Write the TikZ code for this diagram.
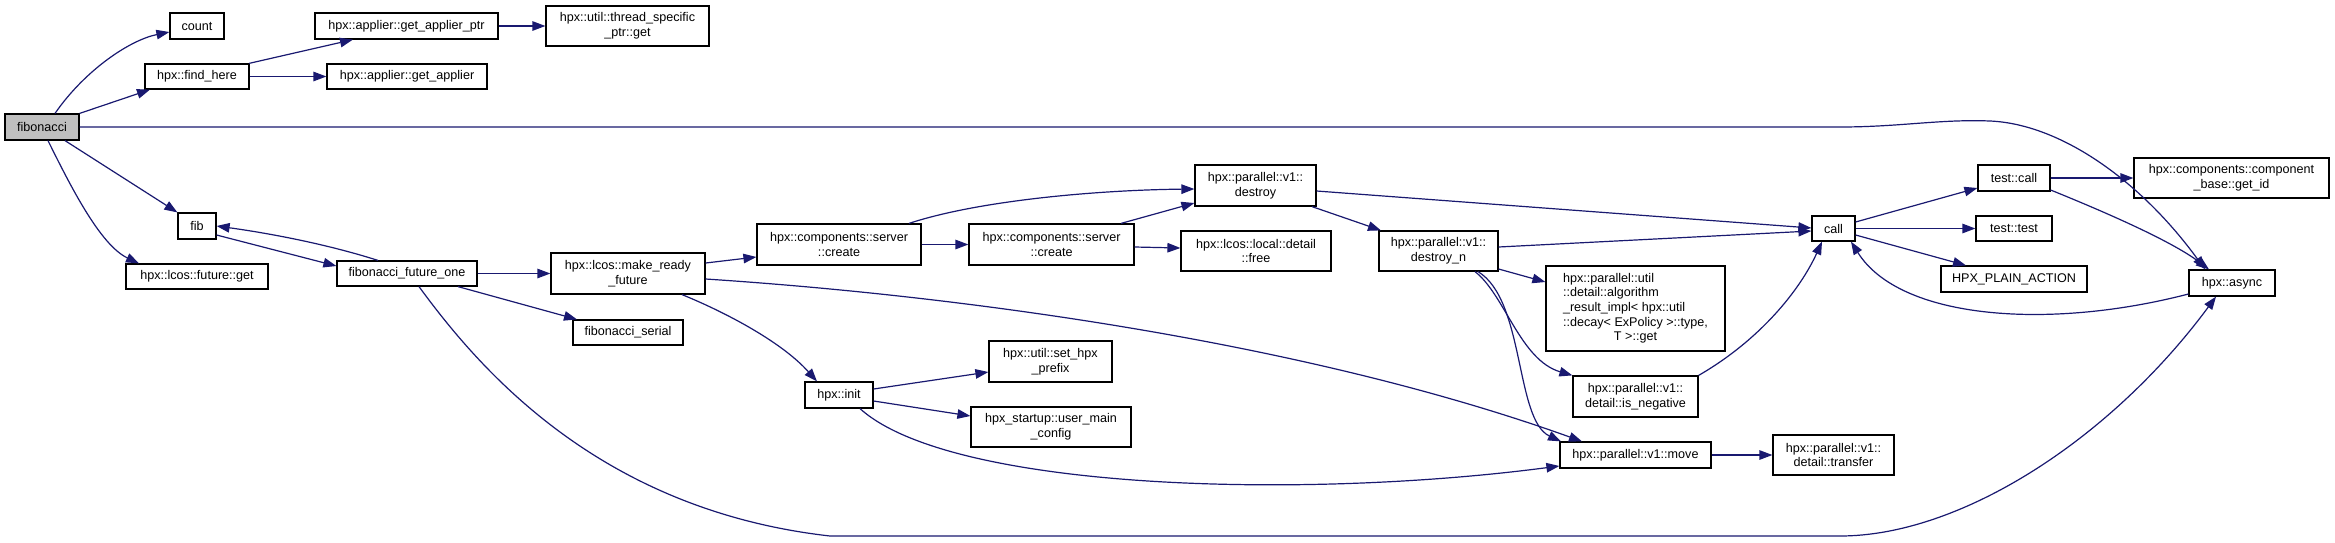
\documentclass[tikz,border=0pt]{standalone}
\usepackage{fontspec}
\setmainfont{Liberation Sans}
\usetikzlibrary{arrows.meta}
\definecolor{edgeblue}{HTML}{191970}
\definecolor{nodegray}{HTML}{BFBFBF}
\newcommand\dxfont{\fontsize{12.6}{14.6}\selectfont}
\tikzset{
  nd/.style={draw=black, line width=1.2pt, fill=white, inner sep=0pt, align=center, font=\dxfont},
  ed/.style={draw=edgeblue, line width=1.2pt, -{Triangle[length=13pt,width=9.5pt]}},
}
\begin{document}
\begin{tikzpicture}[x=1pt,y=-1pt]
\useasboundingbox[fill=white] (0,0) rectangle (2335,542);
% nodes
\node[nd, fill=nodegray, minimum width=74pt, minimum height=26pt] (fibo) at (42,127) {fibonacci};
\node[nd, minimum width=54pt, minimum height=26pt] (count) at (197,26) {count};
\node[nd, minimum width=104pt, minimum height=25pt] (findhere) at (197,76.5) {hpx::find\_here};
\node[nd, minimum width=183pt, minimum height=26pt] (gaptr) at (406.5,26) {hpx::applier::get\_applier\_ptr};
\node[nd, minimum width=163pt, minimum height=40pt] (tsget) at (627.5,26) {hpx::util::thread\_specific\\\_ptr::get};
\node[nd, minimum width=160pt, minimum height=25pt] (gapp) at (407,76.5) {hpx::applier::get\_applier};
\node[nd, minimum width=38pt, minimum height=26pt] (fib) at (197,226) {fib};
\node[nd, minimum width=142pt, minimum height=25pt] (futget) at (197,276.5) {hpx::lcos::future::get};
\node[nd, minimum width=140pt, minimum height=25pt] (ffo) at (407,273.5) {fibonacci\_future\_one};
\node[nd, minimum width=154pt, minimum height=41pt] (mrf) at (628,273.5) {hpx::lcos::make\_ready\\\_future};
\node[nd, minimum width=110pt, minimum height=25pt] (fser) at (628,332.5) {fibonacci\_serial};
\node[nd, minimum width=164pt, minimum height=41pt] (crea) at (839,244.5) {hpx::components::server\\::create};
\node[nd, minimum width=165pt, minimum height=41pt] (creb) at (1051.5,244.5) {hpx::components::server\\::create};
\node[nd, minimum width=68pt, minimum height=26pt] (init) at (839,395) {hpx::init};
\node[nd, minimum width=123pt, minimum height=41pt] (prefix) at (1050.5,361.5) {hpx::util::set\_hpx\\\_prefix};
\node[nd, minimum width=160pt, minimum height=40pt] (umc) at (1051,427) {hpx\_startup::user\_main\\\_config};
\node[nd, minimum width=121pt, minimum height=41pt] (destroy) at (1255.5,185.5) {hpx::parallel::v1::\\destroy};
\node[nd, minimum width=150pt, minimum height=40pt] (free) at (1256,251) {hpx::lcos::local::detail\\::free};
\node[nd, minimum width=119pt, minimum height=40pt] (destn) at (1438.5,251) {hpx::parallel::v1::\\destroy\_n};
\node[nd, minimum width=179pt, minimum height=85pt] (algo) at (1635.5,308.5) {\begin{tabular}{@{}l@{}}hpx::parallel::util\\::detail::algorithm\\\_result\_impl< hpx::util\\::decay< ExPolicy >::type,\\\multicolumn{1}{@{}c@{}}{T >::get}\end{tabular}};
\node[nd, minimum width=125pt, minimum height=41pt] (isneg) at (1635.5,396.5) {hpx::parallel::v1::\\detail::is\_negative};
\node[nd, minimum width=151pt, minimum height=26pt] (move) at (1635.5,455) {hpx::parallel::v1::move};
\node[nd, minimum width=121pt, minimum height=40pt] (transfer) at (1833.5,455) {hpx::parallel::v1::\\detail::transfer};
\node[nd, minimum width=43pt, minimum height=25pt] (call) at (1833.5,228.5) {call};
\node[nd, minimum width=72pt, minimum height=26pt] (tcall) at (2014,178) {test::call};
\node[nd, minimum width=195pt, minimum height=40pt] (getid) at (2231.5,178) {hpx::components::component\\\_base::get\_id};
\node[nd, minimum width=76pt, minimum height=25pt] (ttest) at (2014,228.5) {test::test};
\node[nd, minimum width=146pt, minimum height=26pt] (hpa) at (2014,279) {HPX\_PLAIN\_ACTION};
\node[nd, minimum width=86pt, minimum height=26pt] (async) at (2232,283) {hpx::async};
% edges
\draw[ed] (fibo.north -| 55,0) .. controls (85,70) and (130,40) .. (count.west |- 0,32);
\draw[ed] (fibo.north east) -- (findhere.south -| 150,0);
\draw[ed] (fibo.east) -- (1840,127) .. controls (1900,127) and (1940,119) .. (1990,121) .. controls (2060,124) and (2140,180) .. (async.north -| 2205,0);
\draw[ed] (fibo.south -| 65,0) -- (fib.north west);
\draw[ed] (fibo.south -| 48,0) .. controls (70,185) and (100,245) .. (futget.north -| 139,0);
\draw[ed] (findhere.north -| 249,0) -- (gaptr.south -| 353,0);
\draw[ed] (findhere) -- (gapp);
\draw[ed] (gaptr) -- (tsget);
\draw[ed] (fib.east |- 0,235) -- (ffo.west |- 0,266);
\draw[ed] (ffo.north -| 378,0) .. controls (320,242) and (260,232) .. (fib.east |- 0,226);
\draw[ed] (ffo) -- (mrf);
\draw[ed] (ffo.south -| 458,0) -- (fser.north -| 577,0);
\draw[ed] (ffo.south -| 419,0) .. controls (480,370) and (600,510) .. (830,536) -- (1840,536) .. controls (1960,536) and (2110,440) .. (async.south -| 2216,0);
\draw[ed] (mrf.east |- 0,263) -- (crea.west |- 0,257);
\draw[ed] (mrf.east |- 0,279) .. controls (950,295) and (1300,340) .. (move.north -| 1582,0);
\draw[ed] (mrf.south -| 682,0) .. controls (720,310) and (780,340) .. (init.north -| 817,0);
\draw[ed] (crea.north -| 909,0) .. controls (980,200) and (1100,190) .. (destroy.west |- 0,189);
\draw[ed] (crea) -- (creb);
\draw[ed] (creb.north -| 1121,0) -- (destroy.west |- 0,203);
\draw[ed] (creb.east |- 0,247) -- (free.west |- 0,248);
\draw[ed] (destroy.east |- 0,191) -- (call.west |- 0,228);
\draw[ed] (destroy.south -| 1312,0) -- (destn.north -| 1381,0);
\draw[ed] (destn.east |- 0,247) -- (call.west |- 0,231);
\draw[ed] (destn.east |- 0,269) -- (algo.west |- 0,282);
\draw[ed] (destn.south -| 1475,0) .. controls (1505,295) and (1520,360) .. (isneg.north west);
\draw[ed] (destn.south -| 1478,0) .. controls (1525,300) and (1515,420) .. (move.north -| 1561,0);
\draw[ed] (isneg.north east) .. controls (1760,340) and (1800,290) .. (call.south -| 1822,0);
\draw[ed] (init.east |- 0,389) -- (prefix.west |- 0,372);
\draw[ed] (init.east |- 0,401) -- (umc.west |- 0,416);
\draw[ed] (init.south -| 860,0) .. controls (950,490) and (1300,500) .. (move.west |- 0,466);
\draw[ed] (move) -- (transfer);
\draw[ed] (call.east |- 0,222) -- (tcall.west |- 0,188);
\draw[ed] (call) -- (ttest);
\draw[ed] (call.east |- 0,235) -- (hpa.north -| 1966,0);
\draw[ed] (tcall) -- (getid);
\draw[ed] (tcall.east |- 0,190) .. controls (2100,210) and (2170,240) .. (async.north -| 2209,0);
\draw[ed] (async.west |- 0,294) .. controls (2050,330) and (1900,320) .. (call.south -| 1851,0);
\end{tikzpicture}
\end{document}
